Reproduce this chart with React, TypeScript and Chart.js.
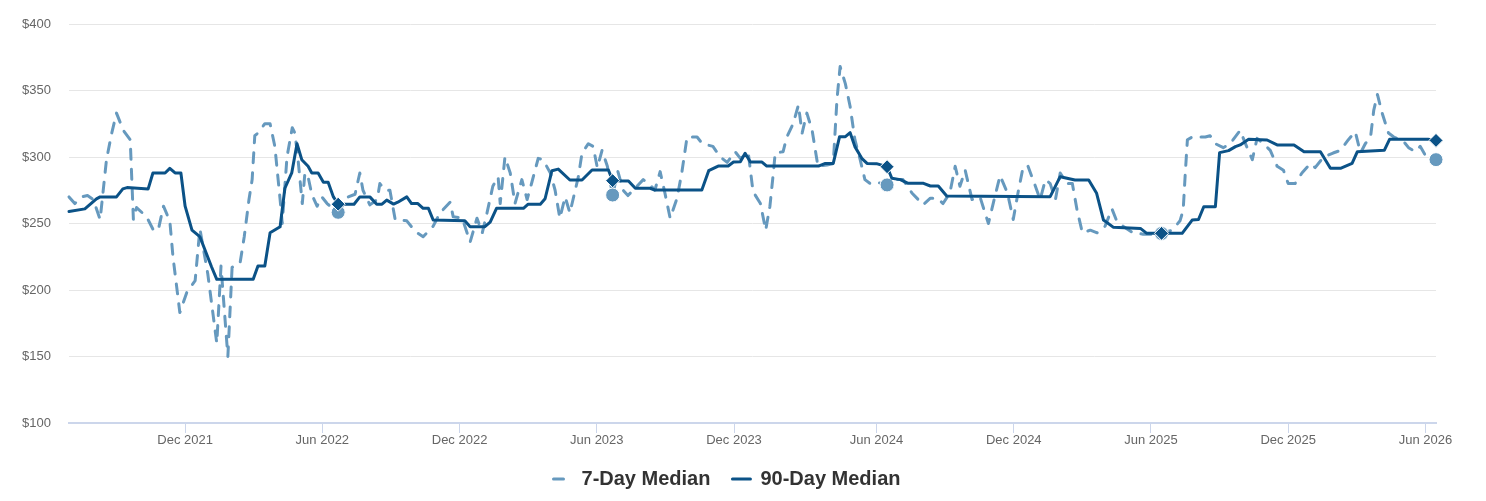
import { useEffect, useRef } from "react";
import { Chart, registerables } from "chart.js";

Chart.register(...registerables);

// x values are week indices of the (ordinal, weekly) time axis
const weeks90 = [0, 3, 5.2, 5.9, 9, 10.2, 11, 15, 15.9, 18.2, 19.1, 20.1, 21.2, 22, 23.3, 24.5, 24.8, 27, 28, 34.9, 35.8, 37.1, 38.1, 40, 40.9, 42.2, 43.2, 44.1, 45.3, 46, 47.2, 48.2, 49.1, 50.1, 51, 54, 55.1, 57, 58.3, 59.3, 60.2, 61.5, 62.3, 64, 64.9, 66.1, 67.1, 68.1, 69, 75, 76, 78.8, 79.8, 81, 86.1, 87, 89.3, 90.2, 91.5, 92.7, 94.9, 97.2, 99.1, 102.2, 103, 106, 107.3, 110.1, 111, 119.9, 121.2, 123, 124.9, 125.9, 127.2, 128.1, 129.1, 131.3, 132.2, 142, 143.3, 144.8, 146, 147.1, 148, 148.9, 150.2, 151.2, 153, 155, 155.9, 157.5, 159, 161.9, 163.2, 164.7, 166.3, 185.9, 187.8, 190.6, 193.2, 194.7, 196, 197.9, 203, 204.2, 207, 210.9, 212.8, 214, 215, 217.2, 218, 219.7, 221, 221.9, 223.5, 227, 228.9, 232.1, 234, 237.1, 239, 240.9, 243.1, 244.1, 246.6, 249.2, 250.2, 257.5, 259];
const median90 = [259, 261, 268.5, 270, 270, 276, 277, 276, 288, 288, 291.5, 288, 288, 263, 245, 241, 240, 217.5, 208, 208, 218, 218, 243, 247.6, 276.5, 288, 310, 298, 293, 288, 288, 281, 281, 270, 264.5, 264.5, 270, 270, 264.5, 264.5, 267.6, 264.6, 266, 270, 265, 265, 261.4, 261.4, 252.6, 252, 247.6, 247.6, 251, 261.4, 261.4, 264.5, 264.5, 268.6, 289.7, 290.9, 282.7, 282.7, 290.2, 290.2, 282.2, 282, 276.5, 276.5, 275.2, 275.2, 289.7, 293.2, 293.2, 296.2, 296.5, 302.8, 296.2, 296.2, 293.2, 293.2, 295.2, 295.2, 315.3, 315.3, 318.3, 307.8, 299, 295.2, 295, 292.7, 284, 283, 280.2, 280.2, 278.2, 278.2, 270.7, 270.2, 285.2, 282.7, 282.7, 272.7, 252.6, 247.1, 246.3, 242.6, 242.6, 242.6, 252.6, 253, 262.6, 262.6, 303.3, 304.8, 307.8, 309.1, 313.3, 312.8, 309.1, 309.1, 304, 304, 291.5, 291.5, 295.2, 304, 304.5, 305, 313.3, 313.3, 312.5];

const weeks7 = [0, 1.1, 2.4, 3.5, 4.6, 5.9, 7.1, 8.1, 9, 10.3, 11.6, 12.2, 12.8, 14.7, 16, 16.9, 17.9, 19.1, 19.7, 21, 22.3, 23.9, 24.8, 26.3, 28, 28.8, 30.1, 30.9, 32.4, 33.2, 34.1, 34.7, 35.2, 35.8, 37.1, 38.1, 39, 40, 40.4, 41.3, 42.3, 42.8, 43.4, 44.2, 44.7, 45.3, 46, 47, 47.9, 48.9, 49.8, 51, 52.9, 54.2, 55.1, 55.7, 57, 58.4, 58.9, 59.9, 60.8, 61.8, 64, 65.6, 67.1, 69, 70.3, 72.2, 72.8, 74.5, 76, 77.3, 78.3, 79.2, 80.3, 81.3, 81.7, 82.6, 83.6, 84.5, 85.8, 86.8, 87.7, 88.9, 89.8, 91.2, 92.1, 93, 94, 94.9, 96.5, 97.2, 98.4, 99.3, 100.1, 101, 102, 103, 104, 105, 105.9, 107.6, 108.8, 110.1, 111, 112, 112.9, 113.9, 115.2, 116.1, 117.1, 119, 120, 122, 123.4, 124.7, 126.2, 127.2, 128.7, 129.6, 131, 132, 132.8, 133.5, 133.8, 135.3, 136, 137.2, 138.2, 138.9, 139.8, 140.8, 141.9, 143.6, 144.8, 145.5, 146.1, 147.1, 148, 148.9, 149.9, 150.8, 151.8, 153.1, 155, 156.5, 158, 159.7, 160.9, 161.8, 163.2, 164.5, 165.6, 166.9, 167.9, 168.8, 169.8, 171.1, 172.6, 174.2, 175.1, 176.4, 177.8, 178.9, 179.8, 180.8, 181.7, 183.1, 184, 185, 185.9, 186.9, 187.8, 189.1, 190.1, 191, 192, 193.5, 194.8, 196.3, 197.6, 198.5, 199.7, 201.6, 203.5, 205.4, 207, 209, 210.5, 211.1, 211.5, 211.9, 212.8, 215.3, 216.2, 217.2, 218.7, 220, 221.9, 222.9, 224.2, 225.1, 226.3, 227.6, 228.9, 230.1, 231, 232.3, 233.6, 235.2, 236.1, 237.7, 239.5, 240.9, 242.4, 243.7, 244.7, 245.6, 246.6, 247.2, 247.9, 248.8, 250, 251, 252.8, 253.8, 255.1, 256, 257.3, 259];
const median7 = [270, 265, 270, 271, 268, 253, 298, 318, 333, 320, 313, 253, 262, 255, 245, 245, 263, 252, 225, 183, 198, 207, 246, 212, 160, 218, 150, 217, 220, 240, 268, 283, 316, 318, 325, 325, 308, 268, 250, 300, 322, 318, 298, 265, 288, 285, 272, 263, 270, 265, 262, 258.4, 270, 272, 288, 275, 264, 268, 280, 275, 275, 253, 252, 244, 240, 248, 258, 266, 255, 254, 236, 254, 243, 258, 278, 285, 265, 300, 288, 265, 283, 268, 281, 299, 298, 288, 275, 254, 270, 258, 285, 303, 310, 308, 292, 305, 293, 271.4, 289, 275, 271, 278, 283, 279, 275, 289, 273, 254, 269, 288, 315, 315, 310, 308, 300, 296, 304, 299, 303, 274, 265, 245, 263, 290, 303, 304, 315, 325, 339, 318, 333, 320, 293, 294, 295, 343, 368, 355, 338, 313, 298, 283, 280, 281, 279, 283, 283, 273, 268, 264, 269, 269, 265, 273, 293, 278, 290, 268, 270, 250, 265, 286, 273, 253, 273, 293, 293, 278, 268, 283, 280, 268, 288, 280, 280, 260, 243, 245, 243, 248, 261, 252, 248, 243, 242, 242, 242.5, 245, 252, 260, 288, 313, 315, 315, 316, 310, 307, 310, 320, 310, 298, 314, 310, 305, 293, 290, 280, 280, 288, 295, 292, 300, 303, 305, 313, 319, 303, 310, 315, 335, 347, 333, 318, 315, 312, 307, 304, 308, 299, 298];

const markerWeeks = [51, 103, 155, 207, 259];
const tickWeeks = [22, 48, 74, 100, 126, 153, 179, 205, 231, 257];
const tickLabels = ["Dec 2021", "Jun 2022", "Dec 2022", "Jun 2023", "Dec 2023", "Jun 2024", "Dec 2024", "Jun 2025", "Dec 2025", "Jun 2026"];

const COLOR_7 = "#6699be";
const COLOR_90 = "#0b5287";
const FONT = "'Liberation Sans', Arial, Helvetica, sans-serif";

export default function App() {
  const ref = useRef<HTMLCanvasElement>(null);

  useEffect(() => {
    const canvas = ref.current;
    if (!canvas) return;
    const isMarker = (c: any) => c.type === "data" && c.raw && markerWeeks.includes(c.raw.x);

    const chart = new Chart(canvas, {
      type: "line",
      data: {
        datasets: [
          {
            label: "90-Day Median",
            data: weeks90.map((x, i) => ({ x, y: median90[i] })),
            borderColor: COLOR_90,
            backgroundColor: COLOR_90,
            borderWidth: 3,
            borderJoinStyle: "round",
            borderCapStyle: "round",
            tension: 0,
            pointStyle: "rectRot",
            pointRadius: (c: any) => (isMarker(c) ? 7 : 0),
            pointHoverRadius: (c: any) => (isMarker(c) ? 7 : 0),
            pointBackgroundColor: COLOR_90,
            pointBorderColor: "#ffffff",
            pointBorderWidth: 1,
            clip: false as any,
          },
          {
            label: "7-Day Median",
            data: weeks7.map((x, i) => ({ x, y: median7[i] })),
            borderColor: COLOR_7,
            backgroundColor: COLOR_7,
            borderWidth: 3,
            borderDash: [10, 10],
            borderJoinStyle: "round",
            borderCapStyle: "round",
            tension: 0,
            pointStyle: "circle",
            pointRadius: (c: any) => (isMarker(c) ? 7 : 0),
            pointHoverRadius: (c: any) => (isMarker(c) ? 7 : 0),
            pointBackgroundColor: COLOR_7,
            pointBorderColor: "#ffffff",
            pointBorderWidth: 1,
            clip: false as any,
          },
        ],
      },
      options: {
        responsive: false,
        animation: false,
        devicePixelRatio: 1,
        layout: { padding: { left: 10, right: 32, top: 16, bottom: 0 } },
        plugins: {
          tooltip: { enabled: false },
          legend: {
            display: true,
            position: "bottom",
            labels: {
              usePointStyle: true,
              pointStyleWidth: 18,
              padding: 22,
              color: "#333333",
              font: { family: FONT, size: 20, weight: "bold" },
              generateLabels: () => [
                {
                  text: "7-Day Median",
                  fillStyle: COLOR_7,
                  strokeStyle: COLOR_7,
                  lineWidth: 3,
                  lineDash: [10, 10],
                  lineCap: "round",
                  pointStyle: "line",
                  hidden: false,
                  datasetIndex: 1,
                  fontColor: "#333333",
                } as any,
                {
                  text: "90-Day Median",
                  fillStyle: COLOR_90,
                  strokeStyle: COLOR_90,
                  lineWidth: 3,
                  lineDash: [],
                  lineCap: "round",
                  pointStyle: "line",
                  hidden: false,
                  datasetIndex: 0,
                  fontColor: "#333333",
                } as any,
              ],
            },
          },
        },
        scales: {
          x: {
            type: "linear",
            min: 0,
            max: 259,
            afterBuildTicks: (scale: any) => {
              scale.ticks = tickWeeks.map((v) => ({ value: v }));
            },
            afterFit: (scale: any) => {
              scale.height = 24;
            },
            ticks: {
              autoSkip: false,
              maxRotation: 0,
              padding: 0,
              color: "#666666",
              font: { family: FONT, size: 13 },
              callback: (_v: any, i: number) => tickLabels[i],
            },
            grid: {
              drawOnChartArea: false,
              drawTicks: true,
              tickLength: 10,
              tickColor: "#ccd6eb",
              tickWidth: 1,
              color: "#ccd6eb",
            },
            border: { display: true, color: "#ccd6eb", width: 2 },
          },
          y: {
            type: "linear",
            min: 100,
            max: 400,
            afterFit: (scale: any) => {
              scale.width = 51;
            },
            ticks: {
              stepSize: 50,
              padding: 3,
              color: "#666666",
              font: { family: FONT, size: 13 },
              callback: (v: any) => "$" + v,
            },
            grid: {
              color: "#e6e6e6",
              lineWidth: 1,
              drawTicks: true,
              tickLength: 15,
              tickColor: "rgba(0,0,0,0)",
            },
            border: { display: false },
          },
        },
      },
    });
    return () => chart.destroy();
  }, []);

  return (
    <div style={{ width: 1460, height: 491 }}>
      <canvas ref={ref} width={1460} height={491} style={{ display: "block", width: 1460, height: 491 }} />
    </div>
  );
}
